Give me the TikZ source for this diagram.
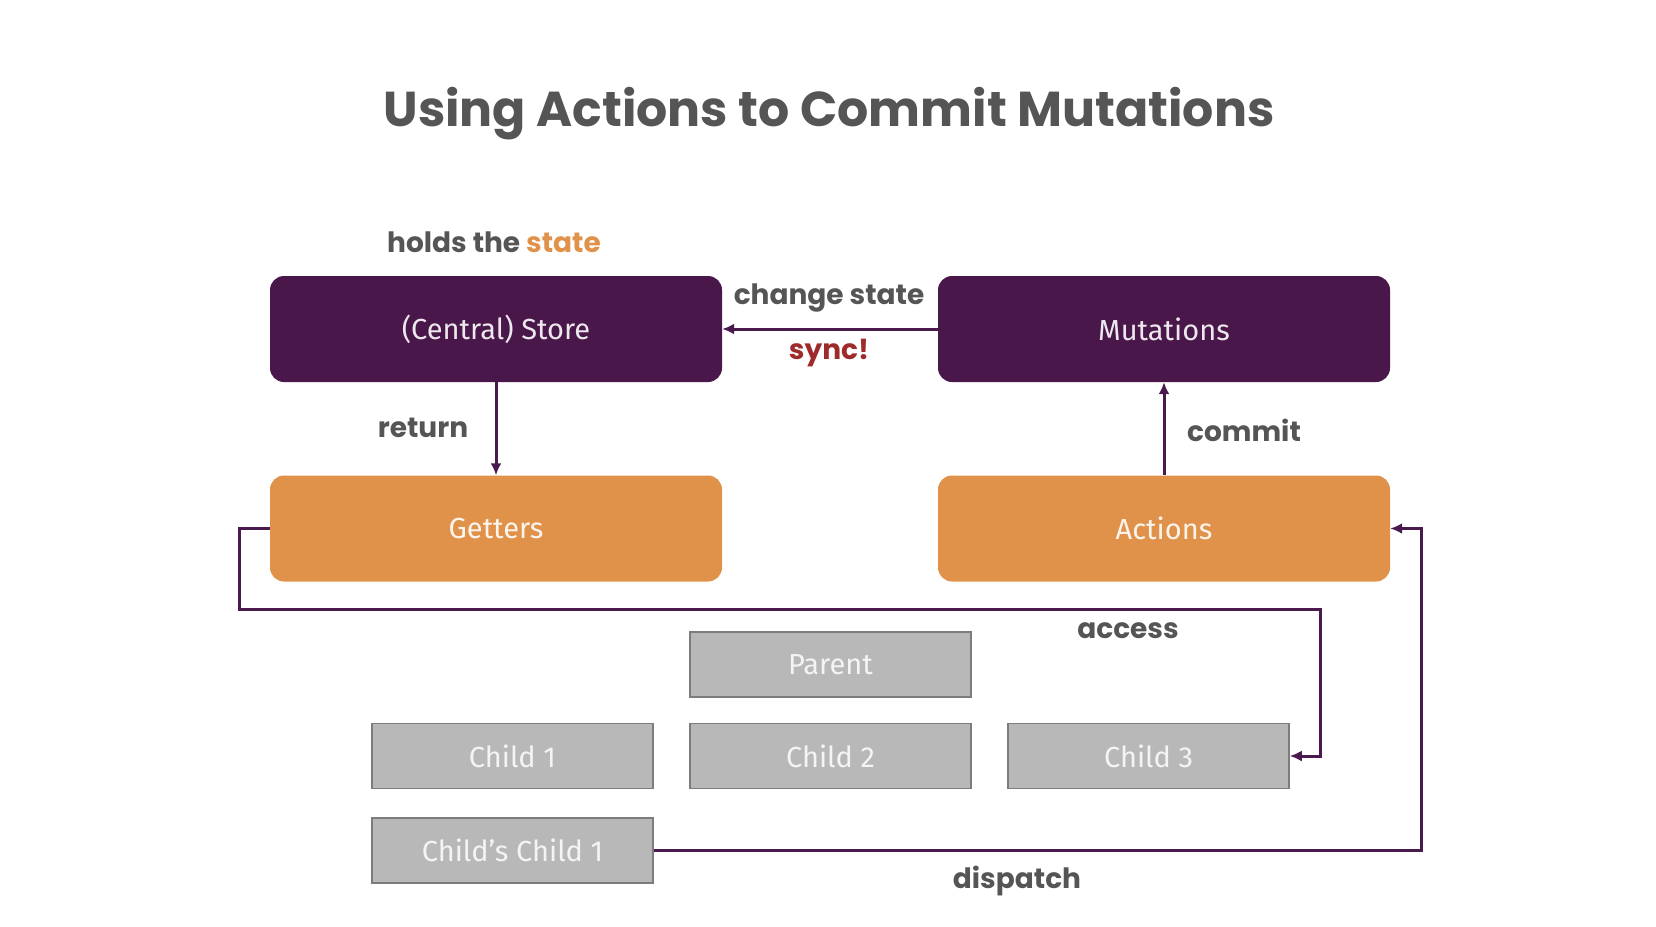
\documentclass[tikz,border=0pt]{standalone}
\usepackage{fontspec}
\setmainfont{Poppins}
\newfontfamily\boxfont{Fira Sans}
\usetikzlibrary{arrows.meta}
\definecolor{vpurple}{HTML}{4A174A}
\definecolor{vorange}{HTML}{E0924A}
\definecolor{vgray}{HTML}{B8B8B8}
\definecolor{vgrayline}{HTML}{7C7C7C}
\definecolor{vtext}{HTML}{555555}
\definecolor{vred}{HTML}{9E2B2B}
\definecolor{vconn}{HTML}{4A1A4F}
\begin{document}
\begin{tikzpicture}[x=1pt,y=-1pt,
  bigbox/.style={rounded corners=14pt, minimum width=452pt, minimum height=106pt, inner sep=0pt,
    text=white, font=\boxfont\fontsize{29}{34}\selectfont},
  storebox/.style={bigbox, fill=vpurple, text=white!90!vpurple},
  actbox/.style={bigbox, fill=vorange, text=white!90!vorange},
  compbox/.style={fill=vgray, draw=vgrayline, line width=1.5pt, minimum width=281pt, minimum height=65pt,
    inner sep=0pt, text=white!85!vgray, font=\boxfont\fontsize{29}{34}\selectfont},
  lbl/.style={text=vtext, font=\fontsize{28}{32}\selectfont\bfseries, inner sep=0pt},
  conn/.style={draw=vconn, line width=3pt, -{Latex[length=12pt,width=11pt]}}]
\useasboundingbox (0,0) rectangle (1656,926);
\node[text=vtext, font=\fontsize{49}{56}\selectfont\bfseries, inner sep=0pt] (title) at (829,114) {Using Actions to Commit Mutations};

\node[storebox] (store) at (496,329) {(Central) Store};
\node[storebox] (mut) at (1164,329) {Mutations};
\node[actbox] (get) at (496,528.5) {Getters};
\node[actbox] (act) at (1164,528.5) {Actions};

\node[compbox] (parent) at (830.5,664.5) {Parent};
\node[compbox] (c1) at (512.5,756) {Child 1};
\node[compbox] (c2) at (830.5,756) {Child 2};
\node[compbox] (c3) at (1148.5,756) {Child 3};
\node[compbox] (cc1) at (512.5,850.5) {Child’s Child 1};

\node[lbl] (holds) at (494,242) {holds the \textcolor{vorange}{state}};
\node[lbl] (change) at (829,298) {change state};
\node[lbl, text=vred] (sync) at (829,353) {sync!};
\node[lbl] (ret) at (423,428) {return};
\node[lbl] (com) at (1244,430) {commit};
\node[lbl] (acc) at (1128,631) {access};
\node[lbl] (disp) at (1017,881) {dispatch};

\coordinate (a1) at (239,609);
\coordinate (a2) at (1320,609);
\coordinate (d1) at (1421,850.5);

\draw[conn] (mut.west) -- (store.east);
\draw[conn] (store.south) -- (get.north);
\draw[conn] (act.north) -- (mut.south);
\draw[conn] (get.west) -| (a1) -- (a2) |- (c3.east);
\draw[conn] (cc1.east) -- (d1) |- (act.east);
\end{tikzpicture}
\end{document}
